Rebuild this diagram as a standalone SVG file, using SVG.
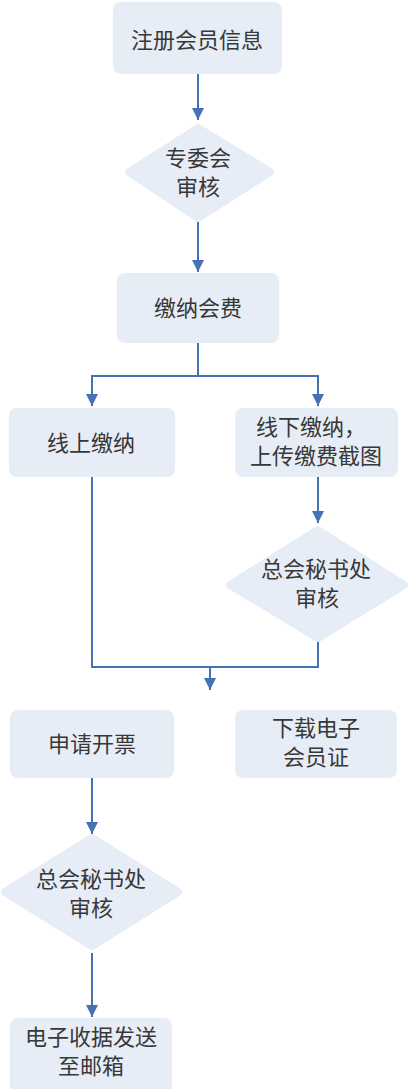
<svg xmlns="http://www.w3.org/2000/svg" width="408" height="1089" viewBox="0 0 408 1089">
<style>
.box{fill:#E7EDF6;}
.dia{fill:#E7EDF6;stroke:#E7EDF6;stroke-width:8;stroke-linejoin:round;}
.t{font-family:"Noto Sans CJK SC","Liberation Sans",sans-serif;font-size:22px;fill:#383838;text-anchor:middle;}
.ln{fill:none;stroke:#4472B4;stroke-width:2;}
</style>
<defs>
<marker id="ah" viewBox="0 0 10 10" refX="10" refY="5" markerWidth="6" markerHeight="6" markerUnits="strokeWidth" orient="auto">
<path d="M0,0 L10,5 L0,10 Z" fill="#4472B4"/>
</marker>
</defs>
<rect width="408" height="1089" fill="#FFFFFF"/>
<g id="connectors">
<line class="ln" x1="198" y1="74" x2="198" y2="120" marker-end="url(#ah)"/>
<line class="ln" x1="198" y1="222" x2="198" y2="272" marker-end="url(#ah)"/>
<polyline class="ln" points="198,343 198,376 92,376 92,406" marker-end="url(#ah)"/>
<polyline class="ln" points="198,376 318,376 318,406" marker-end="url(#ah)"/>
<line class="ln" x1="318" y1="477" x2="318" y2="523" marker-end="url(#ah)"/>
<polyline class="ln" points="92,477 92,667 318,667 318,642"/>
<line class="ln" x1="210" y1="667" x2="210" y2="690" marker-end="url(#ah)"/>
<line class="ln" x1="92" y1="778" x2="92" y2="834" marker-end="url(#ah)"/>
<line class="ln" x1="92" y1="953" x2="92" y2="1017" marker-end="url(#ah)"/>
</g>
<g id="n1"><rect class="box" x="113" y="2" width="169" height="72" rx="8"/><text class="t" x="197" y="48">注册会员信息</text></g>
<g id="n2"><polygon class="dia" points="198,128 270,172 198,218 129,172"/><text class="t" x="198" y="166">专委会</text><text class="t" x="198" y="195">审核</text></g>
<g id="n3"><rect class="box" x="117" y="273" width="162" height="70" rx="8"/><text class="t" x="198" y="316">缴纳会费</text></g>
<g id="n4"><rect class="box" x="9" y="408" width="166" height="69" rx="8"/><text class="t" x="91" y="451">线上缴纳</text></g>
<g id="n5"><rect class="box" x="235" y="408" width="163" height="69" rx="8"/><text class="t" x="311" y="435">线下缴纳，</text><text class="t" x="316" y="464">上传缴费截图</text></g>
<g id="n6"><polygon class="dia" points="318,530 404,585 318,638 230,585"/><text class="t" x="316" y="577">总会秘书处</text><text class="t" x="317" y="606">审核</text></g>
<g id="n7"><rect class="box" x="10" y="710" width="164" height="68" rx="8"/><text class="t" x="92" y="752">申请开票</text></g>
<g id="n8"><rect class="box" x="235" y="710" width="162" height="68" rx="8"/><text class="t" x="316" y="736">下载电子</text><text class="t" x="316" y="765">会员证</text></g>
<g id="n9"><polygon class="dia" points="92,838 178,892 92,946 5,892"/><text class="t" x="91" y="887">总会秘书处</text><text class="t" x="91" y="916">审核</text></g>
<g id="n10"><rect class="box" x="10" y="1018" width="162" height="80" rx="8"/><text class="t" x="91" y="1045">电子收据发送</text><text class="t" x="91" y="1074">至邮箱</text></g>
</svg>
